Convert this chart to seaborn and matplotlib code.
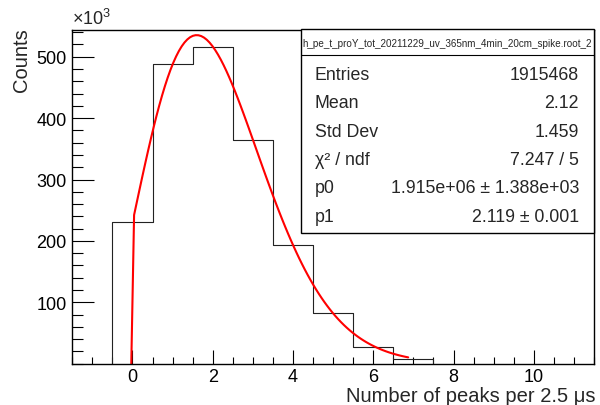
import numpy as np
import pandas as pd
import matplotlib
matplotlib.use("Agg")
import matplotlib.pyplot as plt
from matplotlib.patches import Rectangle
from matplotlib.ticker import MultipleLocator, FixedLocator
import seaborn as sns
from math import lgamma

# ---- data ----
bin_centers = [0, 1, 2, 3, 4, 5, 6, 7]
bin_counts = [230000, 488000, 516000, 364000, 193000, 82000, 27000, 7000]
bin_edges = [-0.5, 0.5, 1.5, 2.5, 3.5, 4.5, 5.5, 6.5, 7.5]

# fit: p0 * Poisson(x, p1)
p0 = 1.915e6
p1 = 2.119
fit_xmin, fit_xmax, fit_npts = -0.03, 6.87, 100

hist_name = "h_pe_t_proY_tot_20211229_uv_365nm_4min_20cm_spike.root_2"
stat_labels = ["Entries", "Mean", "Std Dev", "\u03c7\u00b2 / ndf", "p0", "p1"]
stat_values = ["1915468", "2.12", "1.459", "7.247 / 5",
               "1.915e+06 \u00b1 1.388e+03", "2.119 \u00b1 0.001"]

x_label = "Number of peaks per 2.5 \u03bcs"
y_label = "Counts"

# ---- style ----
sns.set_theme(style="white")
plt.rcParams["font.family"] = ["Liberation Sans", "DejaVu Sans"]
plt.rcParams["mathtext.fontset"] = "custom"
plt.rcParams["mathtext.rm"] = "Liberation Sans"

W, H = 600, 406
fig = plt.figure(figsize=(W / 100, H / 100), dpi=100)
ax_l, ax_r, ax_t, ax_b = 72.3, 594.0, 31.0, 364.7
ax = fig.add_axes([ax_l / W, 1 - ax_b / H, (ax_r - ax_l) / W, (ax_b - ax_t) / H])

df = pd.DataFrame({"x": bin_centers, "w": bin_counts})
sns.histplot(data=df, x="x", weights="w", bins=bin_edges, element="step",
             fill=False, color="#222222", linewidth=0.8, ax=ax)
# vertical closing edges of the step outline
ax.vlines([bin_edges[0], bin_edges[-1]], 0, [bin_counts[0], bin_counts[-1]],
          color="#222222", linewidth=0.8)

xf = np.linspace(fit_xmin, fit_xmax, fit_npts)
yf = np.array([0.0 if v < 0 else p0 * np.exp(v * np.log(p1) - p1 - lgamma(v + 1)) for v in xf])
sns.lineplot(x=xf, y=yf, color="red", linewidth=1.5, estimator=None, sort=False, ax=ax)

ax.set_xlim(-1.5, 11.5)
ax.set_ylim(0, 543500)

# ticks
ax.xaxis.set_major_locator(FixedLocator([0, 2, 4, 6, 8, 10]))
ax.xaxis.set_minor_locator(MultipleLocator(0.5))
ax.yaxis.set_major_locator(FixedLocator([100000, 200000, 300000, 400000, 500000]))
ax.yaxis.set_minor_locator(MultipleLocator(20000))
ax.set_xticklabels(["0", "2", "4", "6", "8", "10"])
ax.set_yticklabels(["100", "200", "300", "400", "500"])
ax.tick_params(axis="both", which="both", direction="in", colors="black",
               labelsize=13, top=False, right=False, bottom=True, left=True, width=0.8)
ax.tick_params(axis="x", which="major", length=10, pad=3)
ax.tick_params(axis="x", which="minor", length=5)
ax.tick_params(axis="y", which="major", length=16, pad=4)
ax.tick_params(axis="y", which="minor", length=8)
for s in ax.spines.values():
    s.set_color("black")
    s.set_linewidth(1.0)

ax.set_xlabel("")
ax.set_ylabel("")
fig.text(596 / W, 1 - 397 / H, x_label, ha="right", va="center", fontsize=14.5)
fig.text(22 / W, 1 - 28 / H, y_label, ha="center", va="top", rotation=90, fontsize=14.5)
fig.text(72 / W, 1 - 25 / H, "\u00d710$^{3}$", ha="left", va="baseline", fontsize=13)

# stats box (pixel -> axes coords)
def ax_x(px):
    return (px - ax_l) / (ax_r - ax_l)

def ax_y(py):
    return (ax_b - py) / (ax_b - ax_t)

bx0, bx1, by0, by1, hy = 301, 594, 30, 234.3, 56
ax.add_patch(Rectangle((ax_x(bx0), ax_y(by1)), ax_x(bx1) - ax_x(bx0), ax_y(by0) - ax_y(by1),
                       transform=ax.transAxes, facecolor="white", edgecolor="black",
                       linewidth=1.0, clip_on=False, zorder=5))
ax.plot([ax_x(bx0), ax_x(bx1)], [ax_y(hy), ax_y(hy)], transform=ax.transAxes,
        color="black", linewidth=0.8, clip_on=False, zorder=6)
ax.text(ax_x((bx0 + bx1) / 2), ax_y(44), hist_name, transform=ax.transAxes,
        ha="center", va="center", fontsize=7.1, zorder=7)
row_y = [75, 104, 132.5, 160.5, 189, 217.5]
for lab, val, ry in zip(stat_labels, stat_values, row_y):
    ax.text(ax_x(315), ax_y(ry), lab, transform=ax.transAxes, ha="left", va="center",
            fontsize=12.8, zorder=7)
    ax.text(ax_x(579), ax_y(ry), val, transform=ax.transAxes, ha="right", va="center",
            fontsize=12.8, zorder=7)

fig.savefig("out.png", dpi=100, facecolor="white")
